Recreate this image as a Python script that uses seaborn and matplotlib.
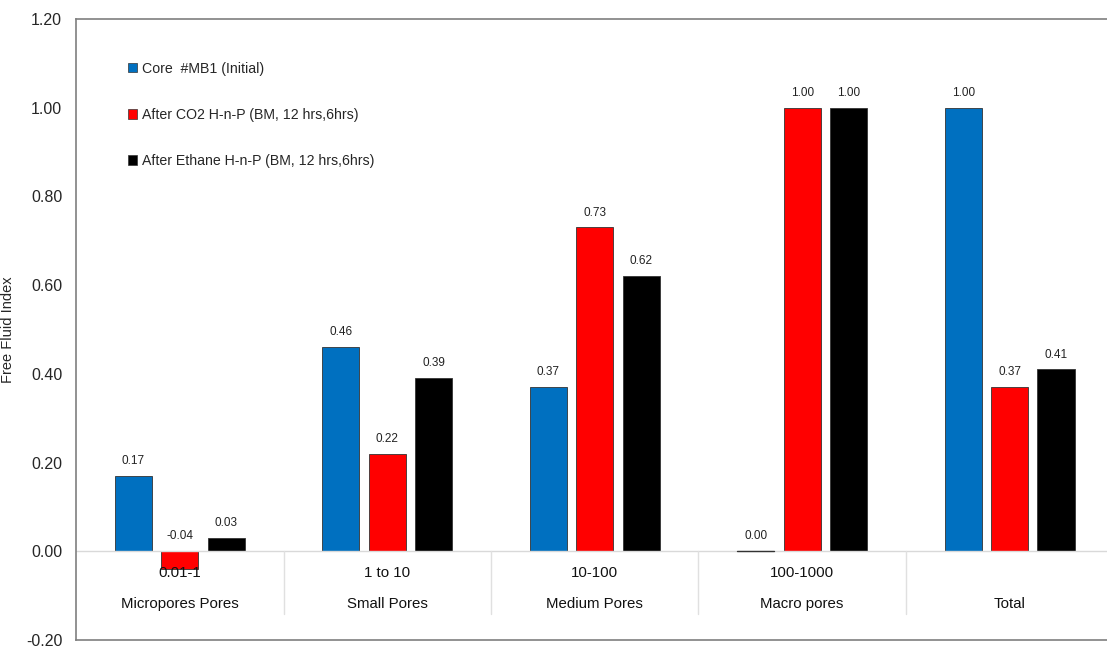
import matplotlib
matplotlib.use("Agg")
import matplotlib.pyplot as plt
import seaborn as sns
import pandas as pd

# Free fluid index per pore-size class
ranges = ["0.01-1", "1 to 10", "10-100", "100-1000", ""]
groups = ["Micropores Pores", "Small Pores", "Medium Pores", "Macro pores", "Total"]
series = ["Core  #MB1 (Initial)",
          "After CO2 H-n-P (BM, 12 hrs,6hrs)",
          "After Ethane H-n-P (BM, 12 hrs,6hrs)"]
core_initial = [0.17, 0.46, 0.37, 0.00, 1.00]
after_co2 = [-0.04, 0.22, 0.73, 1.00, 0.37]
after_ethane = [0.03, 0.39, 0.62, 1.00, 0.41]
colors = ["#0070C0", "#FF0000", "#000000"]
yticks = [-0.20, 0.00, 0.20, 0.40, 0.60, 0.80, 1.00, 1.20]

sns.set_theme(style="white")
plt.rcParams["font.family"] = ["Liberation Sans", "DejaVu Sans"]

rows = []
for s, vals in zip(series, [core_initial, after_co2, after_ethane]):
    for g, v in zip(groups, vals):
        rows.append({"group": g, "series": s, "value": v})
df = pd.DataFrame(rows)

fig = plt.figure(figsize=(11.07, 6.51), dpi=100)
ax = fig.add_axes([0.0687, 0.0169, 0.937, 0.9539])

sns.barplot(data=df, x="group", y="value", hue="series", order=groups,
            hue_order=series, palette=colors, saturation=1, width=0.672, gap=0.2,
            edgecolor="#333333", linewidth=0.6, errorbar=None, ax=ax)

# value labels above each bar (negative labels sit above the zero line)
for cont in ax.containers:
    for bar in cont:
        v = bar.get_height()
        xc = bar.get_x() + bar.get_width() / 2
        ytxt = max(v, 0) + 0.02
        ax.text(xc, ytxt, f"{v:.2f}", ha="center", va="bottom",
                fontsize=8.5, color="#222222")
    # zero-height bar drawn as a thin line
    for bar in cont:
        if bar.get_height() == 0:
            ax.plot([bar.get_x(), bar.get_x() + bar.get_width()], [0, 0],
                    color="#333333", lw=1.0, zorder=3)

ax.set_ylim(-0.20, 1.20)
ax.set_xlim(-0.5, 4.5)
ax.set_yticks(yticks)
ax.set_yticklabels([f"{t:.2f}" for t in yticks], fontsize=11.5)
ax.tick_params(axis="y", length=0, pad=10)
ax.set_xticks([])
ax.set_xlabel("")
ax.set_ylabel("Free Fluid Index", fontsize=10.5, labelpad=8)

# category table below the zero line
ax.axhline(0, color="#d9d9d9", lw=1.0, zorder=1)
for b in [0.5, 1.5, 2.5, 3.5]:
    ax.plot([b, b], [0, -0.142], color="#e0e0e0", lw=1.0, zorder=1)
for i, (r, g) in enumerate(zip(ranges, groups)):
    ax.text(i, -0.05, r, ha="center", va="center", fontsize=10.8, color="#111111")
    ax.text(i, -0.119, g, ha="center", va="center", fontsize=10.8, color="#111111")

for side in ["left", "bottom", "top"]:
    ax.spines[side].set_color("#7f7f7f")
    ax.spines[side].set_linewidth(1.2)
ax.spines["right"].set_visible(False)

leg = ax.legend(loc="upper left", bbox_to_anchor=(0.038, 0.952), frameon=False,
                fontsize=10.2, labelspacing=2.28, handlelength=0.65,
                handleheight=0.65, handletextpad=0.3)
for h in leg.legend_handles:
    h.set_edgecolor("#333333")
    h.set_linewidth(0.5)

fig.savefig("out.png", dpi=100)
